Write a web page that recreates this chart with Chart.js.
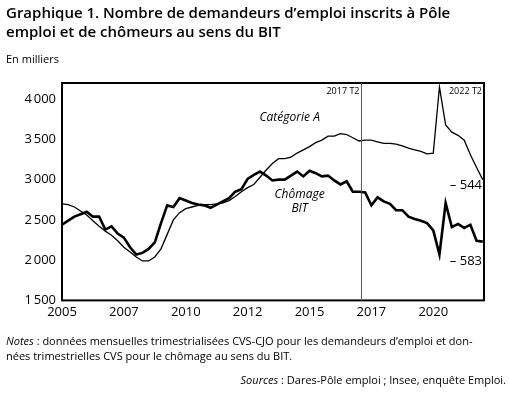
<!DOCTYPE html><html><head><meta charset="utf-8">
<script src="https://cdn.jsdelivr.net/npm/chart.js@4"></script>
<style>html,body{margin:0;padding:0;background:#fff;}#w{position:relative;width:510px;height:400px;}canvas{position:absolute;left:0;top:0;}</style></head><body><div id="w"><canvas id="c" width="510" height="400"></canvas></div>
<script>
const startYear = 2005;
const categorieA = [2700,2690,2660,2610,2560,2490,2420,2360,2310,2240,2160,2100,2040,1990,1990,2040,2140,2320,2500,2590,2640,2660,2680,2690,2690,2700,2710,2740,2790,2850,2900,2940,3030,3120,3200,3260,3260,3280,3330,3370,3410,3460,3490,3540,3540,3570,3560,3520,3480,3490,3490,3470,3450,3450,3440,3420,3390,3370,3350,3320,3330,4150,3680,3590,3550,3490,3310,3150,3000];
const chomageBIT = [2440,2490,2540,2570,2600,2540,2540,2380,2420,2330,2280,2160,2070,2090,2140,2220,2460,2680,2660,2770,2740,2710,2690,2680,2650,2690,2730,2770,2850,2880,3010,3060,3100,3050,2990,3000,3000,3050,3100,3040,3110,3080,3040,3050,2990,2940,2980,2850,2850,2840,2680,2780,2730,2700,2620,2620,2540,2510,2490,2460,2370,2070,2710,2410,2450,2400,2440,2240,2230];
const yTicks = [1500,2000,2500,3000,3500,4000];
const xTicks = [2005,2007.5,2010,2012.5,2015,2017.5,2020];
const pts = a => a.map((v,i)=>({x:startYear+i/4,y:v}));
const F = '"Open Sans", sans-serif';
const deco = {id:'deco',
 afterDraw(ch){const c=ch.ctx,a=ch.chartArea,x=ch.scales.x,y=ch.scales.y;c.save();
  c.strokeStyle='#000';c.lineWidth=2;c.strokeRect(a.left,a.top,a.right-a.left,a.bottom-a.top);
  const vx=x.getPixelForValue(2017.1);c.lineWidth=1;c.strokeStyle='#555';c.beginPath();c.moveTo(vx,a.top);c.lineTo(vx,a.bottom);c.stroke();
  c.fillStyle='#000';c.textBaseline='middle';
  c.font='600 15px '+F;c.textAlign='left';
  c.fillText('Graphique 1. Nombre de demandeurs d\u2019emploi inscrits à Pôle',6,14);
  c.fillText('emploi et de chômeurs au sens du BIT',6,33);
  c.font='11px '+F;c.fillText('En milliers',6,60);
  c.font='9px '+F;c.textAlign='right';c.fillText('2017 T2',vx-2,a.top+8);c.fillText('2022 T2',a.right-2,a.top+8);
  c.font='italic 12px '+F;c.textAlign='center';
  c.fillText('Catégorie A',x.getPixelForValue(2014.2),y.getPixelForValue(3770));
  c.fillText('Chômage',x.getPixelForValue(2014.6),y.getPixelForValue(2815));
  c.fillText('BIT',x.getPixelForValue(2014.6),y.getPixelForValue(2640));
  c.font='13px '+F;c.textAlign='right';
  c.fillText('\u2013 544',a.right-2,y.getPixelForValue(2935));
  c.fillText('\u2013 583',a.right-2,y.getPixelForValue(1990));
  c.font='11px '+F;c.textAlign='left';
  let t1='Notes',t2=' : données mensuelles trimestrialisées CVS-CJO pour les demandeurs d\u2019emploi et don-';
  c.font='italic 11px '+F;c.fillText(t1,6,342);let w=c.measureText(t1).width;c.font='11px '+F;c.fillText(t2,6+w,342);
  c.fillText('nées trimestrielles CVS pour le chômage au sens du BIT.',6,357);
  c.textAlign='right';const s2=' : Dares-Pôle emploi ; Insee, enquête Emploi.';c.fillText(s2,506,381);
  const w2=c.measureText(s2).width;c.font='italic 11px '+F;c.fillText('Sources',506-w2,381);
  c.restore();}};
new Chart(document.getElementById('c'),{type:'line',
 data:{datasets:[
  {label:'Catégorie A',data:pts(categorieA),borderColor:'#000',borderWidth:1.3,pointRadius:0,tension:0},
  {label:'Chômage BIT',data:pts(chomageBIT),borderColor:'#000',borderWidth:2.6,pointRadius:0,tension:0}]},
 options:{responsive:false,animation:false,devicePixelRatio:1,
  layout:{padding:{left:2,right:26,top:83,bottom:76}},
  plugins:{legend:{display:false},tooltip:{enabled:false}},
  scales:{
   x:{type:'linear',min:2005,max:2022.05,afterBuildTicks:s=>{s.ticks=xTicks.map(v=>({value:v}));},
      grid:{display:false,drawTicks:false},border:{display:false},
      ticks:{color:'#000',font:{family:F,size:13},padding:4,maxRotation:0,callback:v=>String(Math.floor(v))}},
   y:{min:1500,max:4200,afterBuildTicks:s=>{s.ticks=yTicks.map(v=>({value:v}));},
      afterFit:s=>{s.width=60;},
      grid:{display:false,drawTicks:false},border:{display:false},
      ticks:{color:'#000',font:{family:F,size:13},padding:6,callback:v=>String(v).replace(/(\d)(\d{3})$/,'$1\u202f$2')}}}},
 plugins:[deco]});
</script></body></html>
